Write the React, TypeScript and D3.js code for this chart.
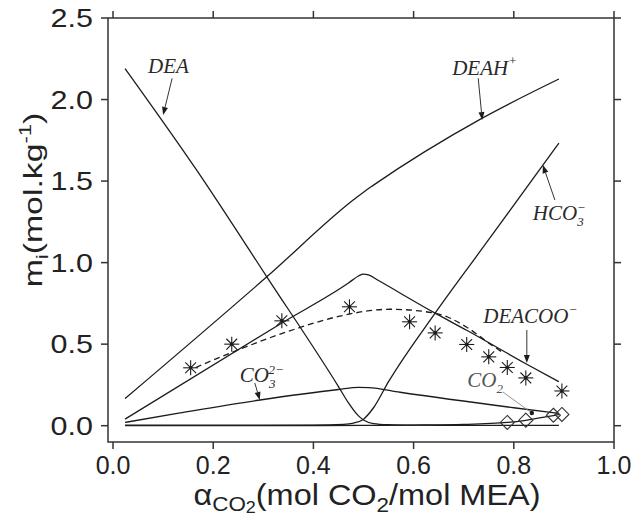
import React from 'react';
import * as d3 from 'd3';

// model curves
const deaX = [0.024, 0.167, 0.307, 0.45, 0.47, 0.49, 0.5, 0.52, 0.55, 0.6, 0.7, 0.8, 0.89];
const deaY = [2.19, 1.567, 0.913, 0.24, 0.14, 0.06, 0.035, 0.013, 0.006, 0.003, 0.002, 0.002, 0.002];

const hco3X = [0.024, 0.2, 0.4, 0.46, 0.48, 0.5, 0.52, 0.55, 0.643, 0.733, 0.89];
const hco3Y = [0.003, 0.003, 0.004, 0.008, 0.016, 0.04, 0.11, 0.27, 0.69, 1.07, 1.733];

const deahX = [0.024, 0.307, 0.48, 0.5, 0.52, 0.737, 0.89];
const deahY = [0.166, 0.913, 1.385, 1.432, 1.475, 1.886, 2.126];

const deacooX = [0.024, 0.337, 0.47, 0.49, 0.5, 0.51, 0.53, 0.643, 0.706, 0.824, 0.89];
const deacooY = [0.04, 0.63, 0.875, 0.918, 0.93, 0.925, 0.89, 0.69, 0.585, 0.38, 0.27];

const co3X = [0.024, 0.134, 0.29, 0.45, 0.49, 0.51, 0.573, 0.8, 0.89];
const co3Y = [0.02, 0.078, 0.156, 0.222, 0.235, 0.234, 0.205, 0.11, 0.075];

const co2X = [0.024, 0.3, 0.5, 0.6, 0.7, 0.787, 0.824, 0.879, 0.89];
const co2Y = [0.001, 0.001, 0.002, 0.004, 0.008, 0.02, 0.033, 0.062, 0.068];

// dashed fit through the DEACOO- data
const fitX = [0.165, 0.24, 0.367, 0.45, 0.553, 0.643, 0.706, 0.756, 0.775];
const fitY = [0.357, 0.453, 0.596, 0.67, 0.714, 0.69, 0.604, 0.494, 0.455];

// experimental points
const starX = [0.155, 0.237, 0.337, 0.472, 0.592, 0.643, 0.706, 0.75, 0.787, 0.824, 0.896];
const starY = [0.355, 0.5, 0.643, 0.729, 0.637, 0.569, 0.498, 0.422, 0.357, 0.293, 0.213];
const diamX = [0.787, 0.824, 0.879, 0.896];
const diamY = [0.02, 0.034, 0.064, 0.069];

const xTicks = [0, 0.2, 0.4, 0.6, 0.8, 1.0];
const yTicks = [0, 0.5, 1.0, 1.5, 2.0, 2.5];

const W = 634;
const H = 520;
const margin = { top: 18, right: 20, bottom: 78, left: 108 };

const ink = '#1c1c1c';
const sans = '"Liberation Sans", Arial, Helvetica, sans-serif';
const serif = '"Liberation Serif", "Times New Roman", serif';

const zip = (xs: number[], ys: number[]) => xs.map((x, i) => [x, ys[i]] as [number, number]);

export default function App() {
  const x = d3.scaleLinear().domain([-0.01, 1.0]).range([margin.left, W - margin.right]);
  const y = d3.scaleLinear().domain([-0.1, 2.5]).range([H - margin.bottom, margin.top]);

  const line = d3
    .line<[number, number]>()
    .x(d => x(d[0]))
    .y(d => y(d[1]))
    .curve(d3.curveMonotoneX);

  const curves = [
    zip(deaX, deaY),
    zip(hco3X, hco3Y),
    zip(deahX, deahY),
    zip(deacooX, deacooY),
    zip(co3X, co3Y),
    zip(co2X, co2Y),
  ];

  const x0 = x.range()[0], x1 = x.range()[1];
  const y0 = y.range()[0], y1 = y.range()[1];

  // arrow helper, in data coords
  const arrow = (ax: number, ay: number, bx: number, by: number, color = ink, head = true) => {
    const px1 = x(ax), py1 = y(ay), px2 = x(bx), py2 = y(by);
    const ang = Math.atan2(py2 - py1, px2 - px1);
    const L = 8, Wd = 3;
    const hx = px2 - L * Math.cos(ang), hy = py2 - L * Math.sin(ang);
    const pts = [
      [px2, py2],
      [hx - Wd * Math.sin(ang), hy + Wd * Math.cos(ang)],
      [hx + Wd * Math.sin(ang), hy - Wd * Math.cos(ang)],
    ];
    return (
      <g>
        <line x1={px1} y1={py1} x2={head ? hx : px2} y2={head ? hy : py2} stroke={color} strokeWidth={0.9} />
        {head ? (
          <polygon points={pts.map(p => p.join(',')).join(' ')} fill={color} />
        ) : (
          <circle cx={px2} cy={py2} r={2.2} fill={ink} />
        )}
      </g>
    );
  };

  const star = (cx: number, cy: number, i: number) => {
    const r = 7.5;
    const d = r * 0.72;
    return (
      <g key={'s' + i} stroke={ink} strokeWidth={1.1}>
        <line x1={cx - r} y1={cy} x2={cx + r} y2={cy} />
        <line x1={cx} y1={cy - r} x2={cx} y2={cy + r} />
        <line x1={cx - d} y1={cy - d} x2={cx + d} y2={cy + d} />
        <line x1={cx - d} y1={cy + d} x2={cx + d} y2={cy - d} />
        <circle cx={cx} cy={cy} r={1.8} fill={ink} stroke="none" />
      </g>
    );
  };

  const lab = { fontFamily: serif, fontStyle: 'italic', fontSize: 21, fill: '#2a2a2a' } as const;

  return (
    <svg width={W} height={H} style={{ position: 'absolute', left: 0, top: 0, background: '#fff' }}>
      {/* frame */}
      <rect x={x0} y={y1} width={x1 - x0} height={y0 - y1} fill="none" stroke="#333" strokeWidth={1.5} />

      {/* ticks */}
      <g stroke="#333" strokeWidth={1.5}>
        {xTicks.map(t => (
          <g key={'xt' + t}>
            <line x1={x(t)} x2={x(t)} y1={y0} y2={y0 + 7} />
            <line x1={x(t)} x2={x(t)} y1={y1} y2={y1 - 7} />
          </g>
        ))}
        {yTicks.map(t => (
          <g key={'yt' + t}>
            <line x1={x0} x2={x0 - 7} y1={y(t)} y2={y(t)} />
            <line x1={x1} x2={x1 + 7} y1={y(t)} y2={y(t)} />
          </g>
        ))}
      </g>

      <g fontFamily={sans} fontSize={25} fill="#222">
        {xTicks.map(t => (
          <text key={'xl' + t} x={x(t)} y={y0 + 32} textAnchor="middle">
            {t.toFixed(1)}
          </text>
        ))}
        {yTicks.map(t => (
          <text
            key={'yl' + t}
            transform={`translate(${x0 - 15},${y(t) + 9}) scale(1.22,1)`}
            textAnchor="end"
          >
            {t.toFixed(1)}
          </text>
        ))}
      </g>

      {/* axis titles */}
      <text
        transform="translate(367,505) scale(1.12,1)"
        textAnchor="middle"
        fontFamily={sans}
        fontSize={29}
        fill="#222"
      >
        <tspan>α</tspan>
        <tspan fontSize={20} dy={6}>CO</tspan>
        <tspan fontSize={16} dy={2}>2</tspan>
        <tspan dy={-8}>(mol CO</tspan>
        <tspan fontSize={20} dy={7}>2</tspan>
        <tspan dy={-7}>/mol MEA)</tspan>
      </text>
      <text
        transform="translate(42,200) rotate(-90) scale(1.3,1)"
        textAnchor="middle"
        fontFamily={sans}
        fontSize={26}
        fill="#222"
      >
        <tspan>m</tspan>
        <tspan fontSize={17} dy={6}>i</tspan>
        <tspan dy={-6}>(mol.kg</tspan>
        <tspan fontSize={17} dy={-11}>-1</tspan>
        <tspan dy={11}>)</tspan>
      </text>

      {/* model curves */}
      <g fill="none" stroke={ink} strokeWidth={1.3}>
        {curves.map((c, i) => (
          <path key={'c' + i} d={line(c) || ''} />
        ))}
        <path d={line(zip(fitX, fitY)) || ''} strokeDasharray="6,4" />
      </g>

      {/* data */}
      {starX.map((v, i) => star(x(v), y(starY[i]), i))}
      {diamX.map((v, i) => {
        const cx = x(v), cy = y(diamY[i]), r = 7;
        return (
          <polygon
            key={'d' + i}
            points={`${cx},${cy - r} ${cx + r},${cy} ${cx},${cy + r} ${cx - r},${cy}`}
            fill="none"
            stroke="#333"
            strokeWidth={1.1}
          />
        );
      })}

      {/* annotations */}
      <text x={x(0.07)} y={y(2.162)} {...lab}>DEA</text>
      {arrow(0.118, 2.13, 0.1, 1.905)}

      <text x={x(0.677)} y={y(2.15)} {...lab}>
        DEAH<tspan fontSize={13} dy={-10}>+</tspan>
      </text>
      {arrow(0.729, 2.13, 0.737, 1.874)}

      <text x={x(0.838)} y={y(1.261)} {...lab}>
        HCO<tspan fontSize={13} dy={6}>3</tspan>
        <tspan fontSize={13} dx={-7} dy={-14}>−</tspan>
      </text>
      {arrow(0.882, 1.384, 0.858, 1.598)}

      <text x={x(0.739)} y={y(0.63)} {...lab}>
        DEACOO<tspan fontSize={13} dy={-9}>−</tspan>
      </text>
      {arrow(0.826, 0.587, 0.826, 0.384)}

      <text x={x(0.707)} y={y(0.237)} {...lab} fill="#555">
        CO<tspan fontSize={13} dy={6}>2</tspan>
      </text>
      {arrow(0.778, 0.207, 0.836, 0.078, '#888', false)}

      <text x={x(0.253)} y={y(0.268)} {...lab}>
        CO<tspan fontSize={13} dy={6}>3</tspan>
        <tspan fontSize={13} dx={-7} dy={-14}>2−</tspan>
      </text>
      {arrow(0.283, 0.262, 0.293, 0.158)}
    </svg>
  );
}
